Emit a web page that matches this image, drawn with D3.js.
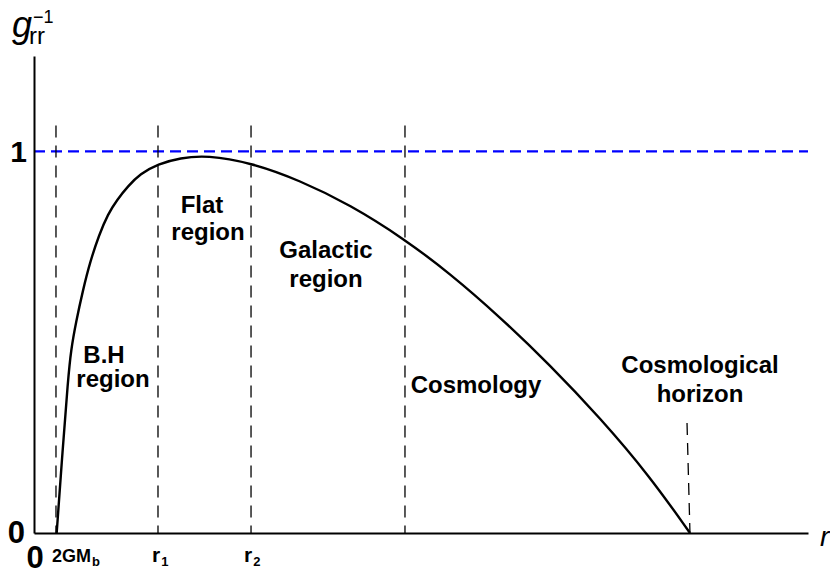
<!DOCTYPE html>
<html>
<head>
<meta charset="utf-8">
<script src="https://cdn.jsdelivr.net/npm/d3@7"></script>
<style>
  html, body { margin: 0; padding: 0; background: #fff; }
  svg { display: block; font-family: "Liberation Sans", Arial, Helvetica, sans-serif; }
</style>
</head>
<body>
<svg id="chart" width="830" height="574"></svg>
<script>
// ---- data ----
const curveR = [0.293, 0.370, 0.439, 0.478, 0.543, 0.633, 0.724, 0.840, 0.956, 1.072, 1.215, 1.370, 1.602, 1.886, 2.235, 2.791, 3.437, 4.083, 4.767, 5.375, 6.021, 6.667, 7.313, 7.959, 8.475];
const curveG = [0.000, 0.218, 0.401, 0.480, 0.553, 0.637, 0.710, 0.781, 0.836, 0.873, 0.909, 0.941, 0.967, 0.983, 0.990, 0.971, 0.924, 0.860, 0.773, 0.680, 0.566, 0.440, 0.302, 0.148, 0.000];
const boundaryR = [0.284, 1.602, 2.804, 4.793];
const boundaryTop = 1.068;
const horizonR = [8.437, 8.475];
const horizonG = [0.288, 0.000];
const yTickValues = [0, 1];
const yTickLabels = ["0", "1"];
const xTickValues = [0, 0.284, 1.602, 2.804];
const xTickLabels = [["0", ""], ["2GM", "b"], ["r", "1"], ["r", "2"]];
const regionLabels = [["B.H", "region"], ["Flat", "region"], ["Galactic", "region"], ["Cosmology"], ["Cosmological", "horizon"]];

// ---- scales ----
const svg = d3.select("#chart");
const x = d3.scaleLinear().domain([0, 10]).range([34, 808]);
const y = d3.scaleLinear().domain([0, 1.25]).range([533, 56]);

// unit reference line g=1
svg.append("line")
  .attr("x1", x(0)).attr("x2", x(10))
  .attr("y1", y(1)).attr("y2", y(1))
  .attr("stroke", "#0000ff").attr("stroke-width", 2.2)
  .attr("stroke-dasharray", "11,6");

// region boundaries
svg.selectAll("line.bound").data(boundaryR).enter().append("line")
  .attr("class", "bound")
  .attr("x1", d => x(d)).attr("x2", d => x(d))
  .attr("y1", y(boundaryTop)).attr("y2", y(0))
  .attr("stroke", "#000").attr("stroke-width", 1.3)
  .attr("stroke-dasharray", "12,8");

svg.append("line")
  .attr("x1", x(horizonR[0])).attr("y1", y(horizonG[0]))
  .attr("x2", x(horizonR[1])).attr("y2", y(horizonG[1]))
  .attr("stroke", "#000").attr("stroke-width", 1.3)
  .attr("stroke-dasharray", "12,8");

// axes
const xAxis = svg.append("g").attr("transform", `translate(0,${y(0)})`)
  .call(d3.axisBottom(x).tickValues([]).tickSizeOuter(0));
const yAxis = svg.append("g").attr("transform", `translate(${x(0)},0)`)
  .call(d3.axisLeft(y).tickValues([]).tickSizeOuter(0));
[xAxis, yAxis].forEach(a => a.select(".domain").attr("stroke", "#000").attr("stroke-width", 2));

// curve
const pts = curveR.map((r, i) => [r, curveG[i]]);
svg.append("path").datum(pts)
  .attr("fill", "none").attr("stroke", "#000").attr("stroke-width", 2.4)
  .attr("d", d3.line().x(d => x(d[0])).y(d => y(d[1])).curve(d3.curveBasis));

// y tick labels
svg.append("text").attr("x", x(0) - 7).attr("y", y(yTickValues[1]) + 11)
  .attr("text-anchor", "end").attr("font-weight", "bold").attr("font-size", 30).text(yTickLabels[1]);
svg.append("text").attr("x", x(0) - 9).attr("y", y(yTickValues[0]) + 10)
  .attr("text-anchor", "end").attr("font-weight", "bold").attr("font-size", 31).text(yTickLabels[0]);

// x tick labels
const xl = svg.append("g");
xl.append("text").attr("x", x(xTickValues[0]) + 1).attr("y", 568)
  .attr("text-anchor", "middle").attr("font-weight", "bold").attr("font-size", 31).text(xTickLabels[0][0]);
const xOffsets = [0, -4, -6, -7];
for (let i = 1; i < xTickValues.length; i++) {
  const t = xl.append("text").attr("x", x(xTickValues[i]) + xOffsets[i]).attr("y", 562)
    .attr("font-weight", "bold").attr("font-size", i === 1 ? 18 : 21);
  t.append("tspan").text(xTickLabels[i][0]);
  t.append("tspan").attr("font-size", 13).attr("dy", 4).attr("dx", 1).text(xTickLabels[i][1]);
}

// axis titles
const yt = svg.append("text").attr("x", 12).attr("y", 37);
yt.append("tspan").attr("font-style", "italic").attr("font-size", 36).text("g");
yt.append("tspan").attr("font-size", 24).attr("x", 29).attr("y", 44).text("rr");
yt.append("tspan").attr("font-size", 18).attr("x", 33).attr("y", 23).text("\u22121");

svg.append("text").attr("x", 820).attr("y", 546)
  .attr("font-style", "italic").attr("font-size", 28).text("r");

// region labels
const labelPos = [
  [[104, 363], [113, 387]],
  [[202, 213], [208, 240]],
  [[326, 258], [326, 287]],
  [[476, 393]],
  [[700, 373], [700, 402]]
];
regionLabels.forEach((lines, i) => {
  lines.forEach((s, j) => {
    svg.append("text")
      .attr("x", labelPos[i][j][0]).attr("y", labelPos[i][j][1])
      .attr("text-anchor", "middle").attr("font-weight", "bold").attr("font-size", 24)
      .text(s);
  });
});
</script>
</body>
</html>
